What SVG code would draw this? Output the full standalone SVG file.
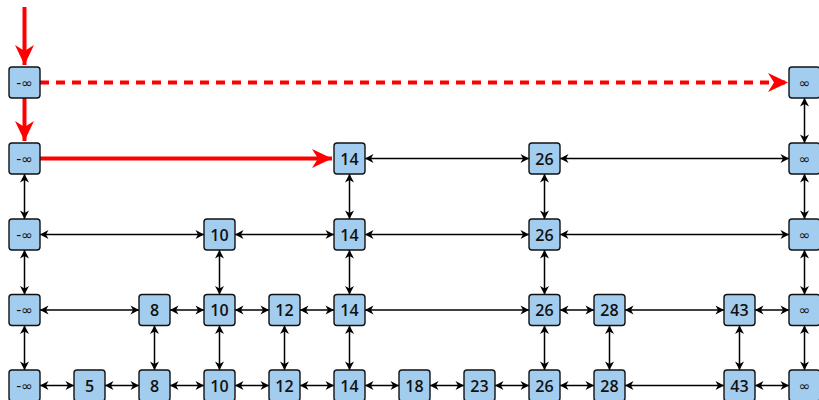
<svg xmlns="http://www.w3.org/2000/svg" width="819" height="400" viewBox="0 0 819 400">
<defs>
<marker id="ah" markerUnits="userSpaceOnUse" markerWidth="12" markerHeight="12" viewBox="-10 -6 12 12" refX="0" refY="0" orient="auto-start-reverse"><path d="M0,0 L-8.5,-4.5 L-6,0 L-8.5,4.5 Z" fill="#000"/></marker>
<marker id="rh" markerUnits="userSpaceOnUse" markerWidth="24" markerHeight="24" viewBox="-22 -11 24 22" refX="0" refY="0" orient="auto"><path d="M0,0 L-20,-9.5 L-14,0 L-20,9.5 Z" fill="#ff0000"/></marker>
</defs>
<style>
.n rect{fill:#a3cdee;stroke:#111;stroke-width:1.4}
.n text{font-family:"Open Sans","DejaVu Sans",sans-serif;font-weight:600;font-size:16px;fill:#111;text-anchor:middle;dominant-baseline:central}
.n text.inf{font-family:"DejaVu Sans",sans-serif;font-weight:normal;font-size:14px}
.c line{stroke:#000;stroke-width:1.5;marker-start:url(#ah);marker-end:url(#ah)}
.r line{stroke:#ff0000;stroke-width:4;marker-end:url(#rh)}
</style>
<g id="connectors">
<g class="r">
<line x1="24.5" y1="7" x2="24.5" y2="65"/>
<line x1="24.5" y1="98" x2="24.5" y2="141"/>
<line x1="40" y1="158.5" x2="332" y2="158.5"/>
<line x1="40" y1="82.5" x2="788" y2="82.5" stroke-dasharray="9 7"/>
</g>
<g class="c">
<line x1="365" y1="158.5" x2="529" y2="158.5"/>
<line x1="560" y1="158.5" x2="789" y2="158.5"/>
<line x1="40" y1="234.5" x2="204" y2="234.5"/>
<line x1="235" y1="234.5" x2="334" y2="234.5"/>
<line x1="365" y1="234.5" x2="529" y2="234.5"/>
<line x1="560" y1="234.5" x2="789" y2="234.5"/>
<line x1="40" y1="310" x2="139" y2="310"/>
<line x1="170" y1="310" x2="204" y2="310"/>
<line x1="235" y1="310" x2="269" y2="310"/>
<line x1="300" y1="310" x2="334" y2="310"/>
<line x1="365" y1="310" x2="529" y2="310"/>
<line x1="560" y1="310" x2="594" y2="310"/>
<line x1="625" y1="310" x2="724" y2="310"/>
<line x1="755" y1="310" x2="789" y2="310"/>
<line x1="40" y1="385.5" x2="74" y2="385.5"/>
<line x1="105" y1="385.5" x2="139" y2="385.5"/>
<line x1="170" y1="385.5" x2="204" y2="385.5"/>
<line x1="235" y1="385.5" x2="269" y2="385.5"/>
<line x1="300" y1="385.5" x2="334" y2="385.5"/>
<line x1="365" y1="385.5" x2="399" y2="385.5"/>
<line x1="430" y1="385.5" x2="464" y2="385.5"/>
<line x1="495" y1="385.5" x2="529" y2="385.5"/>
<line x1="560" y1="385.5" x2="594" y2="385.5"/>
<line x1="625" y1="385.5" x2="724" y2="385.5"/>
<line x1="755" y1="385.5" x2="789" y2="385.5"/>
<line x1="24.5" y1="174" x2="24.5" y2="219"/>
<line x1="24.5" y1="250" x2="24.5" y2="294.5"/>
<line x1="24.5" y1="325.5" x2="24.5" y2="370"/>
<line x1="804.5" y1="98" x2="804.5" y2="143"/>
<line x1="804.5" y1="174" x2="804.5" y2="219"/>
<line x1="804.5" y1="250" x2="804.5" y2="294.5"/>
<line x1="804.5" y1="325.5" x2="804.5" y2="370"/>
<line x1="349.5" y1="174" x2="349.5" y2="219"/>
<line x1="349.5" y1="250" x2="349.5" y2="294.5"/>
<line x1="349.5" y1="325.5" x2="349.5" y2="370"/>
<line x1="544.5" y1="174" x2="544.5" y2="219"/>
<line x1="544.5" y1="250" x2="544.5" y2="294.5"/>
<line x1="544.5" y1="325.5" x2="544.5" y2="370"/>
<line x1="219.5" y1="250" x2="219.5" y2="294.5"/>
<line x1="219.5" y1="325.5" x2="219.5" y2="370"/>
<line x1="154.5" y1="325.5" x2="154.5" y2="370"/>
<line x1="284.5" y1="325.5" x2="284.5" y2="370"/>
<line x1="609.5" y1="325.5" x2="609.5" y2="370"/>
<line x1="739.5" y1="325.5" x2="739.5" y2="370"/>
</g>
</g>
<g id="n1a" class="n"><rect x="9" y="67" width="31" height="31" rx="3"/><text x="24.5" y="82.5" class="inf">-∞</text></g>
<g id="n1b" class="n"><rect x="789" y="67" width="31" height="31" rx="3"/><text x="804.5" y="82.5" class="inf">∞</text></g>
<g id="n2a" class="n"><rect x="9" y="143" width="31" height="31" rx="3"/><text x="24.5" y="158.5" class="inf">-∞</text></g>
<g id="n2b" class="n"><rect x="334" y="143" width="31" height="31" rx="3"/><text x="349.5" y="158.5">14</text></g>
<g id="n2c" class="n"><rect x="529" y="143" width="31" height="31" rx="3"/><text x="544.5" y="158.5">26</text></g>
<g id="n2d" class="n"><rect x="789" y="143" width="31" height="31" rx="3"/><text x="804.5" y="158.5" class="inf">∞</text></g>
<g id="n3a" class="n"><rect x="9" y="219" width="31" height="31" rx="3"/><text x="24.5" y="234.5" class="inf">-∞</text></g>
<g id="n3b" class="n"><rect x="204" y="219" width="31" height="31" rx="3"/><text x="219.5" y="234.5">10</text></g>
<g id="n3c" class="n"><rect x="334" y="219" width="31" height="31" rx="3"/><text x="349.5" y="234.5">14</text></g>
<g id="n3d" class="n"><rect x="529" y="219" width="31" height="31" rx="3"/><text x="544.5" y="234.5">26</text></g>
<g id="n3e" class="n"><rect x="789" y="219" width="31" height="31" rx="3"/><text x="804.5" y="234.5" class="inf">∞</text></g>
<g id="n4a" class="n"><rect x="9" y="294.5" width="31" height="31" rx="3"/><text x="24.5" y="310" class="inf">-∞</text></g>
<g id="n4b" class="n"><rect x="139" y="294.5" width="31" height="31" rx="3"/><text x="154.5" y="310">8</text></g>
<g id="n4c" class="n"><rect x="204" y="294.5" width="31" height="31" rx="3"/><text x="219.5" y="310">10</text></g>
<g id="n4d" class="n"><rect x="269" y="294.5" width="31" height="31" rx="3"/><text x="284.5" y="310">12</text></g>
<g id="n4e" class="n"><rect x="334" y="294.5" width="31" height="31" rx="3"/><text x="349.5" y="310">14</text></g>
<g id="n4f" class="n"><rect x="529" y="294.5" width="31" height="31" rx="3"/><text x="544.5" y="310">26</text></g>
<g id="n4g" class="n"><rect x="594" y="294.5" width="31" height="31" rx="3"/><text x="609.5" y="310">28</text></g>
<g id="n4h" class="n"><rect x="724" y="294.5" width="31" height="31" rx="3"/><text x="739.5" y="310">43</text></g>
<g id="n4i" class="n"><rect x="789" y="294.5" width="31" height="31" rx="3"/><text x="804.5" y="310" class="inf">∞</text></g>
<g id="n5a" class="n"><rect x="9" y="370" width="31" height="31" rx="3"/><text x="24.5" y="385.5" class="inf">-∞</text></g>
<g id="n5b" class="n"><rect x="74" y="370" width="31" height="31" rx="3"/><text x="89.5" y="385.5">5</text></g>
<g id="n5c" class="n"><rect x="139" y="370" width="31" height="31" rx="3"/><text x="154.5" y="385.5">8</text></g>
<g id="n5d" class="n"><rect x="204" y="370" width="31" height="31" rx="3"/><text x="219.5" y="385.5">10</text></g>
<g id="n5e" class="n"><rect x="269" y="370" width="31" height="31" rx="3"/><text x="284.5" y="385.5">12</text></g>
<g id="n5f" class="n"><rect x="334" y="370" width="31" height="31" rx="3"/><text x="349.5" y="385.5">14</text></g>
<g id="n5g" class="n"><rect x="399" y="370" width="31" height="31" rx="3"/><text x="414.5" y="385.5">18</text></g>
<g id="n5h" class="n"><rect x="464" y="370" width="31" height="31" rx="3"/><text x="479.5" y="385.5">23</text></g>
<g id="n5i" class="n"><rect x="529" y="370" width="31" height="31" rx="3"/><text x="544.5" y="385.5">26</text></g>
<g id="n5j" class="n"><rect x="594" y="370" width="31" height="31" rx="3"/><text x="609.5" y="385.5">28</text></g>
<g id="n5k" class="n"><rect x="724" y="370" width="31" height="31" rx="3"/><text x="739.5" y="385.5">43</text></g>
<g id="n5l" class="n"><rect x="789" y="370" width="31" height="31" rx="3"/><text x="804.5" y="385.5" class="inf">∞</text></g>
</svg>
